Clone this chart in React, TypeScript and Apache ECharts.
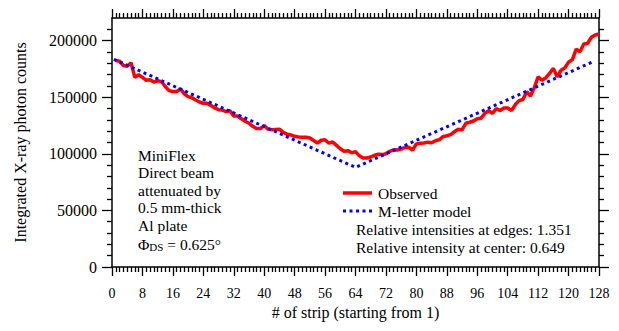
import React, { useEffect, useRef } from "react";
import * as echarts from "echarts";

const observedCounts: number[] = [
  182500, 181800, 178000, 177300, 180500, 167500, 169800, 167500, 165000, 165500,
  163500, 164500, 163800, 159500, 155800, 155000, 155000, 157500, 153000, 150500,
  149500, 147500, 145800, 144600, 144600, 142800, 140500, 139000, 138600, 137300,
  138100, 133500, 133400, 131000, 128800, 127000, 124300, 122300, 122300, 125000,
  121800, 121200, 121500, 121800, 118900, 117400, 116700, 115500, 114800, 114600,
  114600, 114000, 111800, 109600, 112000, 112500, 109400, 110500, 107500, 104500,
  102300, 102800, 101000, 101900, 98200, 96200, 96300, 97200, 98700, 99600,
  99300, 100000, 102200, 103500, 103400, 104200, 105600, 105800, 103400, 108800,
  109300, 109500, 110300, 109800, 111500, 112400, 115200, 116000, 117000, 119500,
  121700, 121100, 127000, 127900, 129000, 131000, 131500, 135800, 138000, 135800,
  140000, 138100, 140500, 140500, 138100, 143500, 147000, 148000, 154900, 151100,
  158500, 168100, 165000, 167000, 171000, 175500, 168100, 173800, 175800, 181000,
  183300, 192500, 190200, 197000, 197600, 203000, 205000, 205900,
];
const modelStrips: number[] = [0.5, 64, 126.5];
const modelCounts: number[] = [183500, 88000, 181500];
const yTickValues: number[] = [0, 50000, 100000, 150000, 200000];
const seriesNames: string[] = ["Observed", "M-letter model"];
const infoLines: string[] = ["MiniFlex", "Direct beam", "attenuated by", "0.5 mm-thick", "Al plate"];
const noteLines: string[] = [
  "Relative intensities at edges: 1.351",
  "Relative intensity at center: 0.649",
];

const FONT = '"Liberation Serif", "Times New Roman", serif';
const RED = "#ff0000";
const BLUE = "#0000ff";

export default function App() {
  const ref = useRef<HTMLDivElement>(null);
  useEffect(() => {
    if (!ref.current) return;
    const chart = echarts.init(ref.current, undefined, { renderer: "svg" });
    const axisLineStyle = { color: "#000", width: 1.5 };
    const tickStyle = { color: "#000", width: 1.3 };
    const xCommon = {
      type: "value",
      min: 0,
      max: 128,
      interval: 8,
      axisLine: { show: true, onZero: false, lineStyle: axisLineStyle },
      axisTick: { show: true, inside: false, length: 9, lineStyle: tickStyle },
      minorTick: { show: true, splitNumber: 8, length: 5, lineStyle: tickStyle },
      splitLine: { show: false },
      minorSplitLine: { show: false },
    };
    const yCommon = {
      type: "value",
      min: 0,
      max: 220000,
      interval: 50000,
      axisLine: { show: true, onZero: false, lineStyle: axisLineStyle },
      axisTick: { show: true, inside: false, length: 10, lineStyle: tickStyle, customValues: yTickValues },
      minorTick: { show: true, splitNumber: 5, length: 5, lineStyle: tickStyle },
      splitLine: { show: false },
      minorSplitLine: { show: false },
    };
    const lineH = 17.6;
    const graphics: any[] = infoLines.map((t, i) => ({
      type: "text",
      x: 138,
      y: 155 + i * lineH,
      style: { text: t, font: `15.5px ${FONT}`, fill: "#000", verticalAlign: "middle" },
    }));
    graphics.push({
      type: "text",
      x: 138,
      y: 155 + 5 * lineH,
      style: {
        text: "{a|Φ}{s|DS}{a| = 0.625°}",
        fill: "#000",
        verticalAlign: "middle",
        rich: {
          a: { fontFamily: FONT, fontSize: 15.5, fill: "#000", verticalAlign: "bottom", lineHeight: 18 },
          s: { fontFamily: FONT, fontSize: 11, fill: "#000", verticalAlign: "bottom", lineHeight: 13 },
        },
      },
    });
    // legend (drawn manually so the icons are plain line samples)
    graphics.push({
      type: "line",
      shape: { x1: 343, y1: 193, x2: 372, y2: 193 },
      style: { stroke: RED, lineWidth: 3.5 },
    });
    graphics.push({
      type: "line",
      shape: { x1: 343, y1: 211, x2: 372, y2: 211 },
      style: { stroke: BLUE, lineWidth: 3, lineDash: [3, 3.5] },
    });
    seriesNames.forEach((t, i) => {
      graphics.push({
        type: "text",
        x: 378,
        y: 193 + i * 18,
        style: { text: t, font: `15.5px ${FONT}`, fill: "#000", verticalAlign: "middle" },
      });
    });
    noteLines.forEach((t, i) => {
      graphics.push({
        type: "text",
        x: 356,
        y: 229 + i * 18,
        style: { text: t, font: `15.5px ${FONT}`, fill: "#000", verticalAlign: "middle" },
      });
    });
    chart.setOption({
      animation: false,
      backgroundColor: "#fff",
      grid: { left: 112, right: 20, top: 18, bottom: 64, containLabel: false },
      xAxis: [
        {
          ...xCommon,
          position: "bottom",
          axisLabel: { show: true, margin: 19, fontFamily: FONT, fontSize: 14, color: "#000" },
          name: "# of strip (starting from 1)",
          nameLocation: "middle",
          nameGap: 37,
          nameTextStyle: { fontFamily: FONT, fontSize: 16, color: "#000" },
        },
        { ...xCommon, position: "top", axisLabel: { show: false } },
      ],
      yAxis: [
        {
          ...yCommon,
          position: "left",
          axisLabel: {
            show: true,
            margin: 15,
            fontFamily: FONT,
            fontSize: 16,
            color: "#000",
            customValues: yTickValues,
            formatter: (v: number) => String(v),
          },
          name: "Integrated X-ray photon counts",
          nameLocation: "middle",
          nameGap: 84,
          nameTextStyle: { fontFamily: FONT, fontSize: 16, color: "#000" },
        },
        { ...yCommon, position: "right", axisLabel: { show: false } },
      ],
      graphic: graphics,
      series: [
        {
          name: seriesNames[0],
          type: "line",
          xAxisIndex: 0,
          yAxisIndex: 0,
          symbol: "none",
          showSymbol: false,
          lineStyle: { color: RED, width: 3.5 },
          itemStyle: { color: RED },
          data: observedCounts.map((v, i) => [i + 1, v]),
          z: 2,
        },
        {
          name: seriesNames[1],
          type: "line",
          xAxisIndex: 0,
          yAxisIndex: 0,
          symbol: "none",
          showSymbol: false,
          lineStyle: { color: BLUE, width: 3, type: [3, 3.5] },
          itemStyle: { color: BLUE },
          data: modelStrips.map((x, i) => [x, modelCounts[i]]),
          z: 3,
        },
      ],
    });
    return () => chart.dispose();
  }, []);
  return <div ref={ref} style={{ width: 619, height: 331, position: "absolute", left: 0, top: 0 }} />;
}
